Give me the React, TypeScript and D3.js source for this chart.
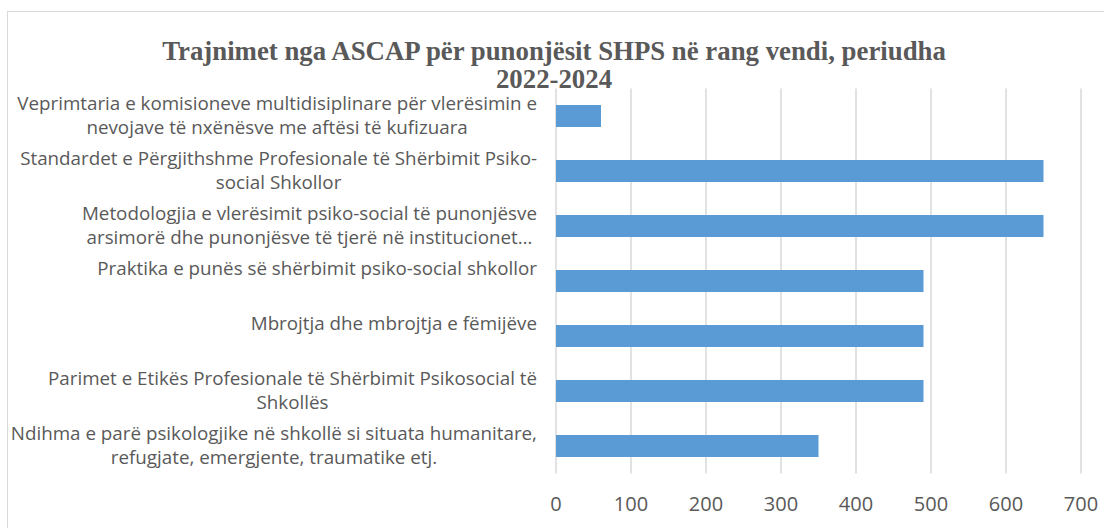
import { useEffect, useRef } from "react";
import * as d3 from "d3";

// category labels, already wrapped the way the reference wraps them
const categories = [
  "Veprimtaria",
  "Standardet",
  "Metodologjia",
  "Praktika",
  "Mbrojtja",
  "Parimet",
  "Ndihma",
];
const labelLines = [
  ["Veprimtaria e komisioneve multidisiplinare për vlerësimin e", "nevojave të nxënësve me aftësi të kufizuara"],
  ["Standardet e Përgjithshme Profesionale të Shërbimit Psiko-", "social Shkollor"],
  ["Metodologjia e vlerësimit psiko-social të punonjësve", "arsimorë dhe punonjësve të tjerë në institucionet…"],
  ["Praktika e punës së shërbimit psiko-social shkollor"],
  ["Mbrojtja dhe mbrojtja e fëmijëve"],
  ["Parimet e Etikës Profesionale të Shërbimit Psikosocial të", "Shkollës"],
  ["Ndihma e parë psikologjike në shkollë si situata humanitare,", "refugjate, emergjente, traumatike etj."],
];
const values = [60, 650, 650, 490, 490, 490, 350];
const ticks = [0, 100, 200, 300, 400, 500, 600, 700];
const titleLines = ["Trajnimet nga ASCAP për punonjësit SHPS në rang vendi, periudha", "2022-2024"];

const W = 1104, H = 528;

export default function App() {
  const svgRef = useRef<SVGSVGElement>(null);

  useEffect(() => {
    const svg = d3.select(svgRef.current);
    svg.selectAll("*").remove();

    const x = d3.scaleLinear().domain([0, 700]).range([556, 1081]);
    const y = d3.scaleBand()
      .domain(categories)
      .range([88.5, 473.5])
      .paddingInner(0.6)
      .paddingOuter(0.3);

    // chart frame
    svg.append("rect")
      .attr("x", 7.5).attr("y", 11.5)
      .attr("width", W + 10).attr("height", H + 10)
      .attr("fill", "#fff")
      .attr("stroke", "#d9d9d9")
      .attr("stroke-width", 1);

    // gridlines
    svg.append("g")
      .selectAll("line")
      .data(ticks)
      .join("line")
        .attr("x1", d => x(d)).attr("x2", d => x(d))
        .attr("y1", y.range()[0]).attr("y2", y.range()[1])
        .attr("stroke", "#d9d9d9")
        .attr("stroke-width", 1.5);

    // bars
    svg.append("g")
      .selectAll("rect")
      .data(values)
      .join("rect")
        .attr("x", x(0))
        .attr("y", (d, i) => y(categories[i])!)
        .attr("width", d => x(d) - x(0))
        .attr("height", y.bandwidth())
        .attr("fill", "#5b9bd5");

    // tick labels
    svg.append("g")
      .selectAll("text")
      .data(ticks)
      .join("text")
        .attr("x", d => x(d))
        .attr("y", 511)
        .attr("text-anchor", "middle")
        .style("font-family", "'Open Sans', sans-serif")
        .style("font-size", "20px")
        .attr("fill", "#595959")
        .text(d => d);

    // category labels: block right aligned, lines centred inside the block
    const right = 537;
    labelLines.forEach((lines, i) => {
      const cy = y(categories[i])! + y.bandwidth() / 2;
      const g = svg.append("g");
      const texts = lines.map((line, j) =>
        g.append("text")
          .attr("y", cy - 12 + j * 24 + 6)
          .style("font-family", "'Open Sans', sans-serif")
          .style("font-size", "18.8px")
          .attr("fill", "#595959")
          .attr("text-anchor", "middle")
          .text(line)
      );
      const widths = texts.map(t => (t.node() as SVGTextElement).getComputedTextLength());
      const blockW = d3.max(widths)!;
      texts.forEach(t => t.attr("x", right - blockW / 2));
    });

    // title
    svg.append("g")
      .selectAll("text")
      .data(titleLines)
      .join("text")
        .attr("x", 554)
        .attr("y", (d, i) => 60 + i * 28)
        .attr("text-anchor", "middle")
        .style("font-family", "'Liberation Serif', serif")
        .style("font-weight", "bold")
        .style("font-size", "26.8px")
        .attr("fill", "#595959")
        .text(d => d);
  }, []);

  return (
    <svg
      ref={svgRef}
      width={W}
      height={H}
      style={{ position: "absolute", left: 0, top: 0, background: "#fff" }}
    />
  );
}
